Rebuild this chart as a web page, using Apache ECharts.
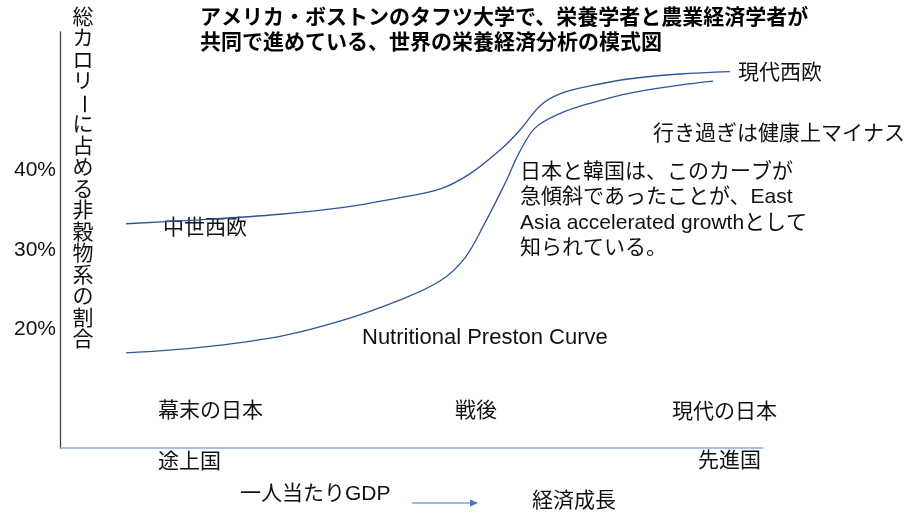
<!DOCTYPE html>
<html>
<head>
<meta charset="utf-8">
<script src="https://cdn.jsdelivr.net/npm/echarts@6/dist/echarts.min.js"></script>
<style>
  html, body { margin: 0; padding: 0; background: #fff; }
  #chart { width: 908px; height: 515px; }
</style>
</head>
<body>
<div id="chart"></div>
<script>
// 一人当たりGDP (0-100の指数) と非穀物系カロリーの割合 (%)
const westX = [9.4, 19.9, 31.3, 39.8, 48.4, 54.1, 58.3, 62.6, 65.4, 68.3, 71.1, 75.4, 81.1, 88.2, 95.3];
const westY = [33.3, 33.8, 34.5, 35.3, 36.6, 37.7, 39.6, 42.6, 45.1, 48.2, 49.7, 50.7, 51.6, 52.2, 52.5];
const japanX = [9.4, 19.9, 31.3, 39.8, 48.4, 54.1, 57.6, 60.5, 63.3, 65.4, 67.6, 71.1, 75.4, 81.1, 88.2, 92.9];
const japanY = [17.0, 17.7, 19.1, 21.0, 23.7, 26.1, 29.0, 33.5, 38.4, 42.4, 45.4, 47.2, 48.5, 49.8, 50.8, 51.3];
const tickValues = [20, 30, 40];
const tickLabels = ['20%', '30%', '40%'];

const titleLines = ['アメリカ・ボストンのタフツ大学で、栄養学者と農業経済学者が', '共同で進めている、世界の栄養経済分析の模式図'];
const yName = '総カロリー に占める非穀物系の割合';
const noteLines = ['日本と韓国は、このカーブが', '急傾斜であったことが、East', 'Asia accelerated growthとして', '知られている。'];

const FONT = "'Liberation Sans', 'Noto Sans CJK JP', sans-serif";
const chart = echarts.init(document.getElementById('chart'));

function txt(x, y, text, extra) {
  return {
    type: 'text', x: x, y: y,
    style: Object.assign({ text: text, fill: '#111', font: '21px ' + FONT, textVerticalAlign: 'middle' }, extra || {})
  };
}

// 縦書きの軸名（ーは回転）
const yNameChars = yName.replace(' ', '').split('').map((ch, i) => ({
  type: 'text',
  x: 83, y: 18 + i * 21.5,
  rotation: ch === 'ー' ? -Math.PI / 2 : 0,
  style: { text: ch, fill: '#111', font: '21px ' + FONT, textAlign: 'center', textVerticalAlign: 'middle' }
}));

const graphics = [
  {
    type: 'text', x: 200, y: 6,
    style: { text: titleLines.join('\n'), fill: '#000', font: 'bold 21px ' + FONT, lineHeight: 25 }
  },
  ...yNameChars,
  txt(738, 73, '現代西欧'),
  txt(653, 134, '行き過ぎは健康上マイナス'),
  {
    type: 'text', x: 520, y: 159.5,
    style: { text: noteLines.join('\n'), fill: '#111', font: '21px ' + FONT, lineHeight: 25.3 }
  },
  txt(163, 228, '中世西欧'),
  txt(362, 338, 'Nutritional Preston Curve', { font: '22px ' + FONT }),
  txt(158, 411, '幕末の日本'),
  txt(455, 411, '戦後'),
  txt(672, 412, '現代の日本'),
  txt(158, 462, '途上国'),
  txt(698, 461, '先進国'),
  txt(240, 494, '一人当たりGDP'),
  txt(532, 501, '経済成長'),
  {
    type: 'line',
    shape: { x1: 412, y1: 503, x2: 471, y2: 503 },
    style: { stroke: '#4472c4', lineWidth: 1.2 }
  },
  {
    type: 'polygon',
    shape: { points: [[470, 499.5], [478, 503], [470, 506.5]] },
    style: { fill: '#4472c4' }
  }
];

chart.setOption({
  animation: false,
  grid: { left: 60, right: 145, top: 32, bottom: 67 },
  xAxis: {
    type: 'value', min: 0, max: 100,
    axisLine: { show: true, lineStyle: { color: '#8faadc', width: 1.5 } },
    axisTick: { show: false }, axisLabel: { show: false }, splitLine: { show: false }
  },
  yAxis: {
    type: 'value', min: 5, max: 57.5, interval: 5,
    axisLine: { show: true, lineStyle: { color: '#404040', width: 1.3 } },
    axisTick: { show: false }, splitLine: { show: false },
    axisLabel: {
      margin: 4, color: '#111', fontSize: 21, fontFamily: FONT,
      showMinLabel: false, showMaxLabel: false,
      formatter: v => {
        const i = tickValues.indexOf(v);
        return i >= 0 ? tickLabels[i] : '';
      }
    }
  },
  series: [
    {
      type: 'line', smooth: 0.35, symbol: 'none',
      data: westX.map((x, i) => [x, westY[i]]),
      lineStyle: { color: '#2f5597', width: 1.3 }
    },
    {
      type: 'line', smooth: 0.35, symbol: 'none',
      data: japanX.map((x, i) => [x, japanY[i]]),
      lineStyle: { color: '#2f5597', width: 1.3 }
    }
  ],
  graphic: graphics
});
</script>
</body>
</html>
